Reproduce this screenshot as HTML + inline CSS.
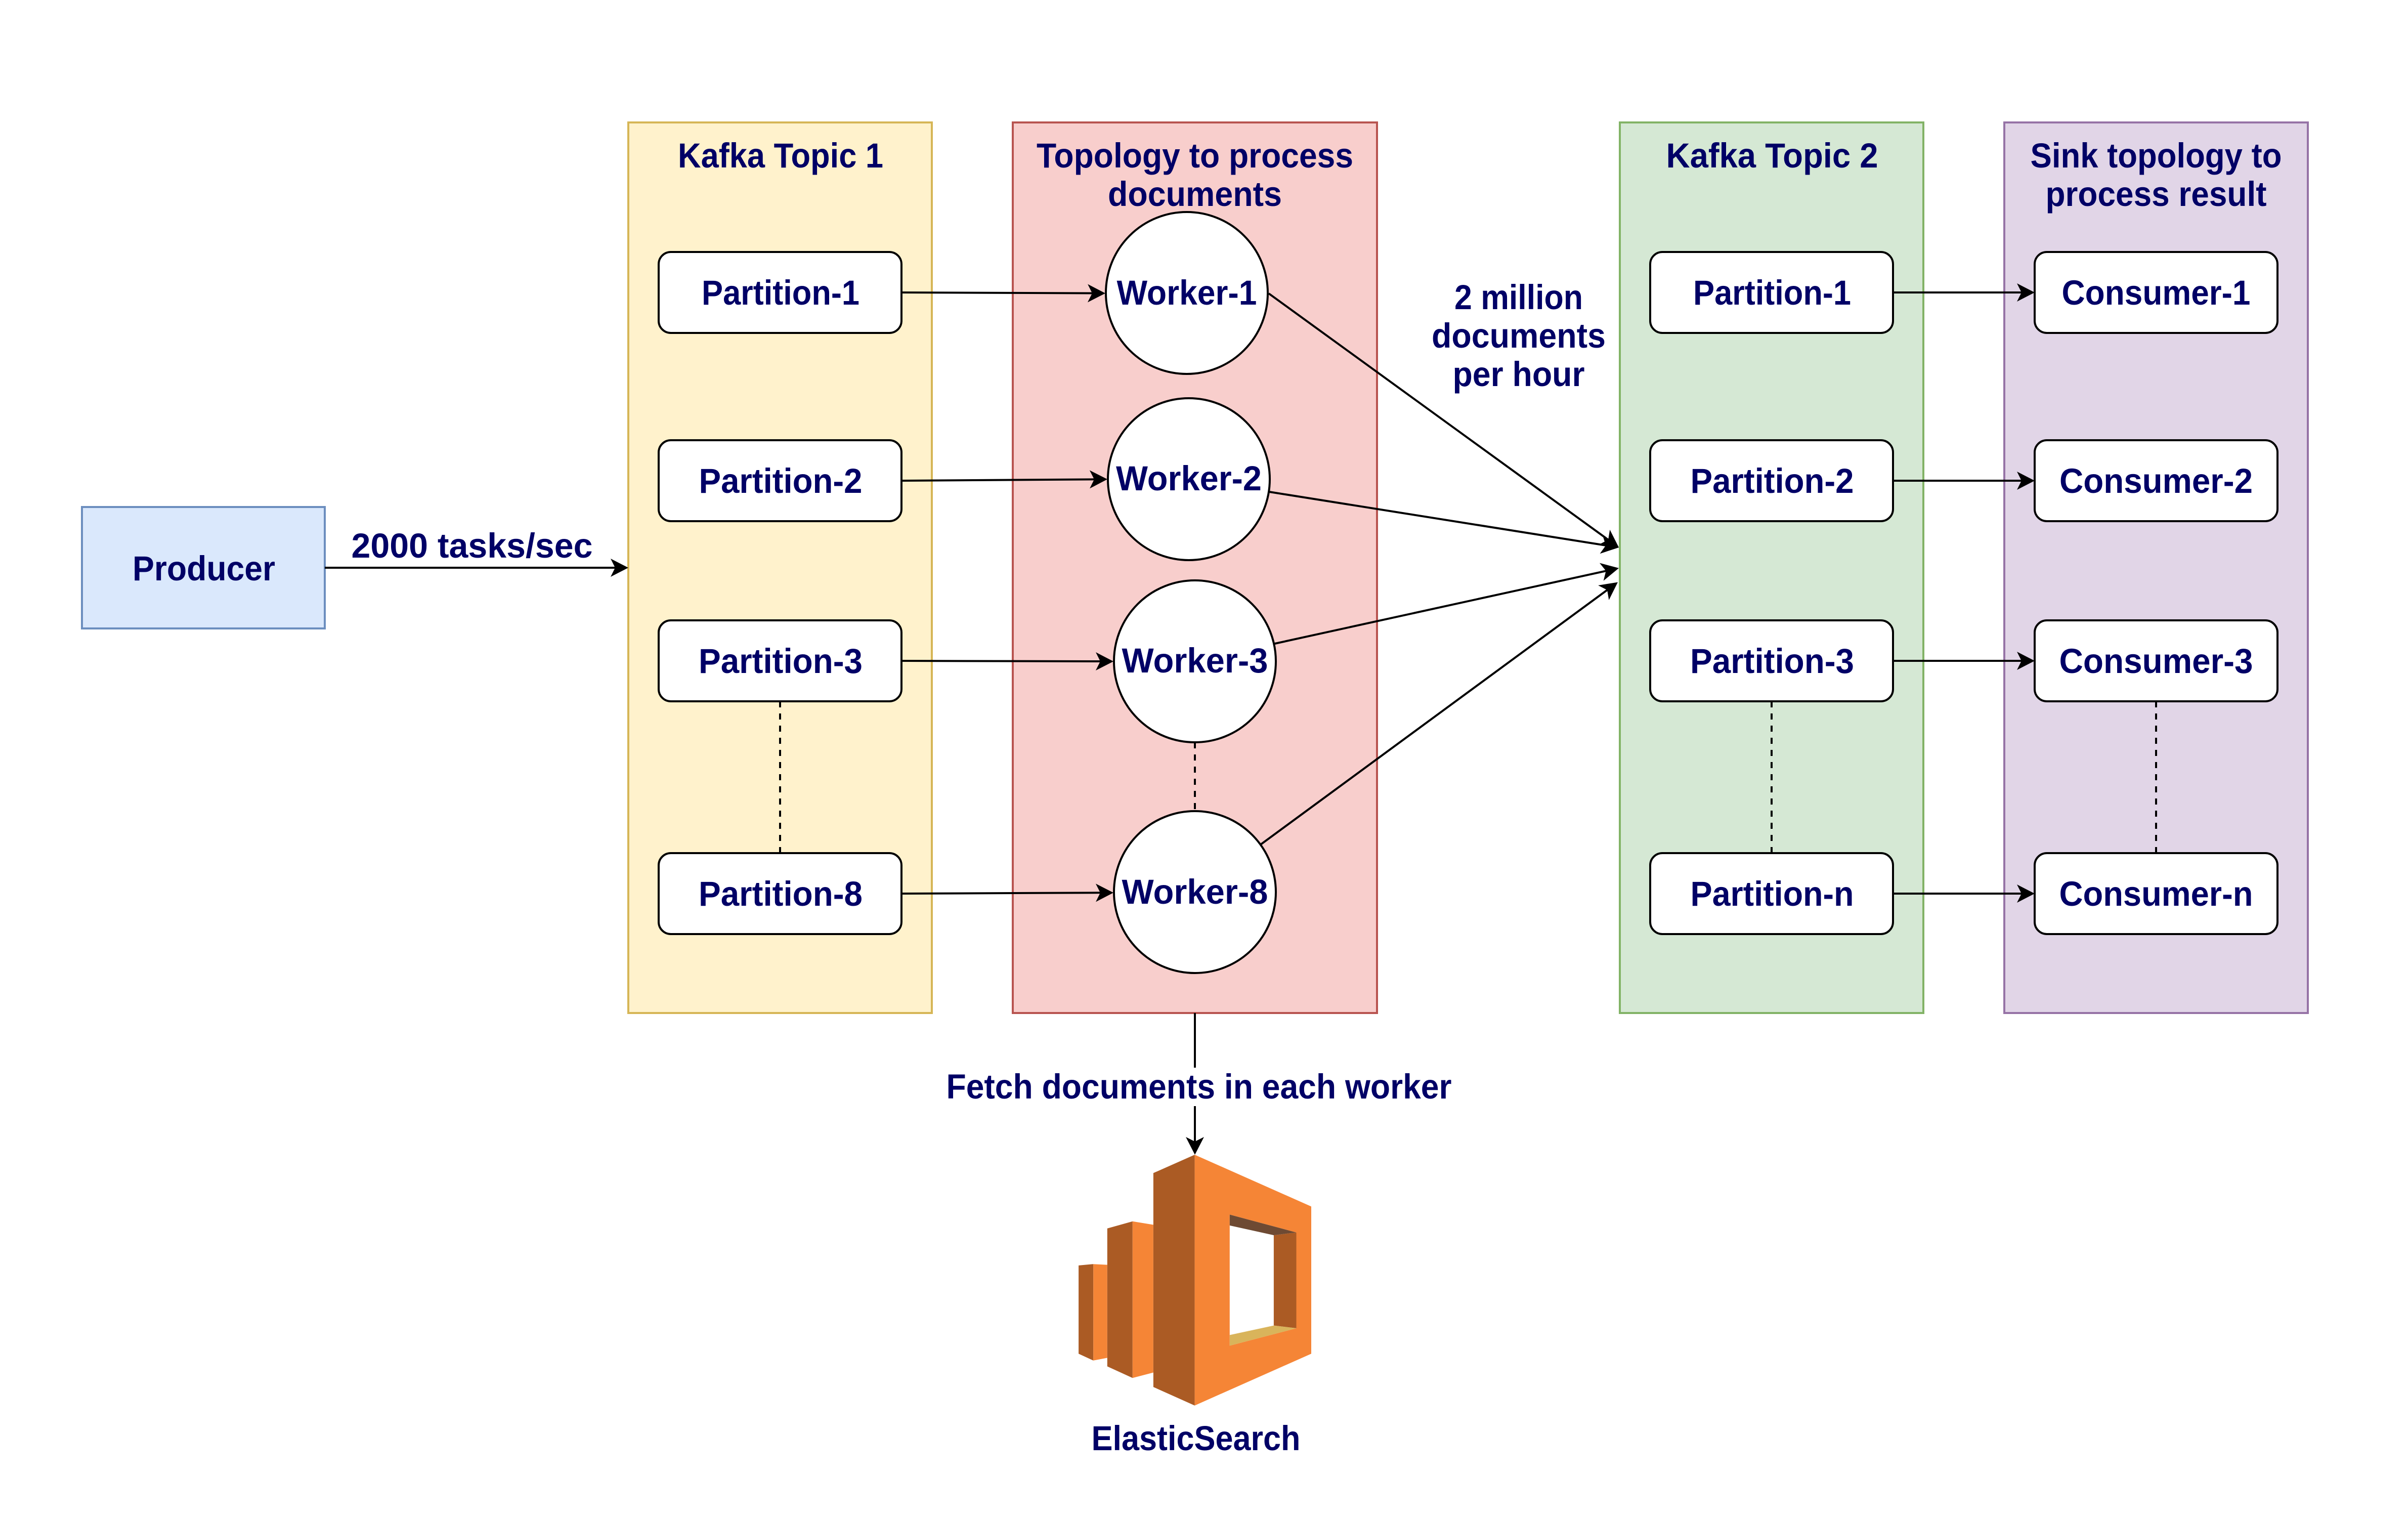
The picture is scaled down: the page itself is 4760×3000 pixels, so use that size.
<!DOCTYPE html>
<html><head><meta charset="utf-8"><style>
html,body{margin:0;padding:0;background:#fff}
svg{display:block}
text{font-family:"Liberation Sans",sans-serif;font-weight:700;font-size:69px;fill:#000066;text-anchor:middle}
</style></head><body>
<svg xmlns="http://www.w3.org/2000/svg" width="4760" height="3000" viewBox="0 0 4760 3000">
<defs>
<marker id="a" viewBox="-10 -19 37 38" markerWidth="37" markerHeight="38" refX="0" refY="0" markerUnits="userSpaceOnUse" orient="auto"><path d="M26 0L-9 -18L0 0L-9 18Z" fill="#000"/></marker>
</defs>
<rect width="4760" height="3000" fill="#fff"/>
<g stroke-width="4">
<rect x="162" y="1002" width="480" height="240" fill="#dae8fc" stroke="#6c8ebf"/>
<rect x="1242" y="242" width="600" height="1760" fill="#fff2cc" stroke="#d6b656"/>
<rect x="2002" y="242" width="720" height="1760" fill="#f8cecc" stroke="#b85450"/>
<rect x="3202" y="242" width="600" height="1760" fill="#d5e8d4" stroke="#82b366"/>
<rect x="3962" y="242" width="600" height="1760" fill="#e1d5e7" stroke="#9673a6"/>
</g>
<g fill="none" stroke="#000" stroke-width="4" stroke-dasharray="12 12">
<path d="M1542 1386V1686M3502 1386V1686M4262 1386V1686M2362 1467V1604"/>
</g>
<g fill="#fff" stroke="#000" stroke-width="4">
<rect x="1302" y="498" width="480" height="160" rx="24"/>
<rect x="1302" y="870" width="480" height="160" rx="24"/>
<rect x="1302" y="1226" width="480" height="160" rx="24"/>
<rect x="1302" y="1686" width="480" height="160" rx="24"/>
<rect x="3262" y="498" width="480" height="160" rx="24"/>
<rect x="3262" y="870" width="480" height="160" rx="24"/>
<rect x="3262" y="1226" width="480" height="160" rx="24"/>
<rect x="3262" y="1686" width="480" height="160" rx="24"/>
<rect x="4022" y="498" width="480" height="160" rx="24"/>
<rect x="4022" y="870" width="480" height="160" rx="24"/>
<rect x="4022" y="1226" width="480" height="160" rx="24"/>
<rect x="4022" y="1686" width="480" height="160" rx="24"/>
<circle cx="2346" cy="579" r="160"/>
<circle cx="2350" cy="947" r="160"/>
<circle cx="2362" cy="1307" r="160"/>
<circle cx="2362" cy="1763" r="160"/>
</g>
<g fill="none" stroke="#000" stroke-width="4">
<path marker-end="url(#a)" d="M642 1122H1216"/>
<path marker-end="url(#a)" d="M1782 578L2159 579.5"/>
<path marker-end="url(#a)" d="M1782 950L2163 947.3"/>
<path marker-end="url(#a)" d="M1782 1306L2175 1307"/>
<path marker-end="url(#a)" d="M1782 1766L2175 1764.3"/>
<path marker-end="url(#a)" d="M3742 578H3996"/>
<path marker-end="url(#a)" d="M3742 950H3996"/>
<path marker-end="url(#a)" d="M3742 1306H3996"/>
<path marker-end="url(#a)" d="M3742 1766H3996"/>
<path marker-end="url(#a)" d="M2508 580L3179 1066.7"/>
<path marker-end="url(#a)" d="M2509 972L3174.3 1077.9"/>
<path marker-end="url(#a)" d="M2520 1272L3174.6 1128.3"/>
<path marker-end="url(#a)" d="M2492 1669L3177 1166"/>
<path marker-end="url(#a)" d="M2362 2002V2256"/>
</g>
<rect x="1872" y="2110" width="996" height="76" fill="#fff"/>
<g>
<polygon fill="#ab5b24" points="2132.1,2500.9 2161.2,2498.2 2161.2,2688.8 2132.1,2675.4"/>
<polygon fill="#f58536" points="2161.2,2498.2 2188.8,2499.6 2188.8,2683.5 2161.2,2688.8"/>
<polygon fill="#ab5b24" points="2188.8,2427.7 2238.8,2413.8 2238.8,2723.2 2188.8,2700.4"/>
<polygon fill="#f58536" points="2238.8,2413.8 2279.9,2420.5 2279.9,2712.5 2238.8,2723.2"/>
<polygon fill="#ab5b24" points="2279.9,2318.3 2361.6,2282.1 2361.6,2777.7 2279.9,2741.1"/>
<path fill="#f58536" fill-rule="evenodd" d="M2361.6 2282.1L2592 2384.4V2675.4L2361.6 2777.7ZM2430.8 2400.4V2659.4L2562.5 2625V2435.7Z"/>
<polygon fill="#ab5b24" points="2517.9,2441.1 2562.5,2435.7 2562.5,2625 2517.9,2619.6"/>
<polygon fill="#6e4a33" points="2430.8,2400.4 2562.5,2435.7 2517.9,2441.1 2430.8,2421.9"/>
<polygon fill="#d9b45b" points="2430.8,2638.4 2517.9,2619.6 2562.5,2625 2430.8,2659.4"/>
</g>
<g lengthAdjust="spacingAndGlyphs">
<text lengthAdjust="spacingAndGlyphs" x="403" y="1147" textLength="282">Producer</text>
<text lengthAdjust="spacingAndGlyphs" x="933" y="1102" textLength="477">2000 tasks/sec</text>
<text lengthAdjust="spacingAndGlyphs" x="1543" y="331" textLength="406">Kafka Topic 1</text>
<text lengthAdjust="spacingAndGlyphs" x="2362" y="331" textLength="626">Topology to process</text>
<text lengthAdjust="spacingAndGlyphs" x="2362" y="407" textLength="344">documents</text>
<text lengthAdjust="spacingAndGlyphs" x="3503" y="331" textLength="419">Kafka Topic 2</text>
<text lengthAdjust="spacingAndGlyphs" x="4262" y="331" textLength="497">Sink topology to</text>
<text lengthAdjust="spacingAndGlyphs" x="4262" y="407" textLength="437">process result</text>
<text lengthAdjust="spacingAndGlyphs" x="1543" y="602" textLength="312">Partition-1</text>
<text lengthAdjust="spacingAndGlyphs" x="1543" y="974" textLength="323">Partition-2</text>
<text lengthAdjust="spacingAndGlyphs" x="1543" y="1330" textLength="324">Partition-3</text>
<text lengthAdjust="spacingAndGlyphs" x="1543" y="1790" textLength="324">Partition-8</text>
<text lengthAdjust="spacingAndGlyphs" x="3503" y="602" textLength="312">Partition-1</text>
<text lengthAdjust="spacingAndGlyphs" x="3503" y="974" textLength="323">Partition-2</text>
<text lengthAdjust="spacingAndGlyphs" x="3503" y="1330" textLength="324">Partition-3</text>
<text lengthAdjust="spacingAndGlyphs" x="3503" y="1790" textLength="323">Partition-n</text>
<text lengthAdjust="spacingAndGlyphs" x="4262" y="602" textLength="373">Consumer-1</text>
<text lengthAdjust="spacingAndGlyphs" x="4262" y="974" textLength="382">Consumer-2</text>
<text lengthAdjust="spacingAndGlyphs" x="4262" y="1330" textLength="383">Consumer-3</text>
<text lengthAdjust="spacingAndGlyphs" x="4262" y="1790" textLength="383">Consumer-n</text>
<text lengthAdjust="spacingAndGlyphs" x="2346" y="602" textLength="277">Worker-1</text>
<text lengthAdjust="spacingAndGlyphs" x="2350" y="969" textLength="288">Worker-2</text>
<text lengthAdjust="spacingAndGlyphs" x="2362" y="1329" textLength="289">Worker-3</text>
<text lengthAdjust="spacingAndGlyphs" x="2362" y="1786" textLength="289">Worker-8</text>
<text lengthAdjust="spacingAndGlyphs" x="3002" y="611" textLength="254">2 million</text>
<text lengthAdjust="spacingAndGlyphs" x="3002" y="687" textLength="344">documents</text>
<text lengthAdjust="spacingAndGlyphs" x="3002" y="763" textLength="261">per hour</text>
<text lengthAdjust="spacingAndGlyphs" x="2370" y="2171" textLength="999">Fetch documents in each worker</text>
<text lengthAdjust="spacingAndGlyphs" x="2364" y="2866" textLength="413">ElasticSearch</text>
</g>
</svg>
</body></html>
